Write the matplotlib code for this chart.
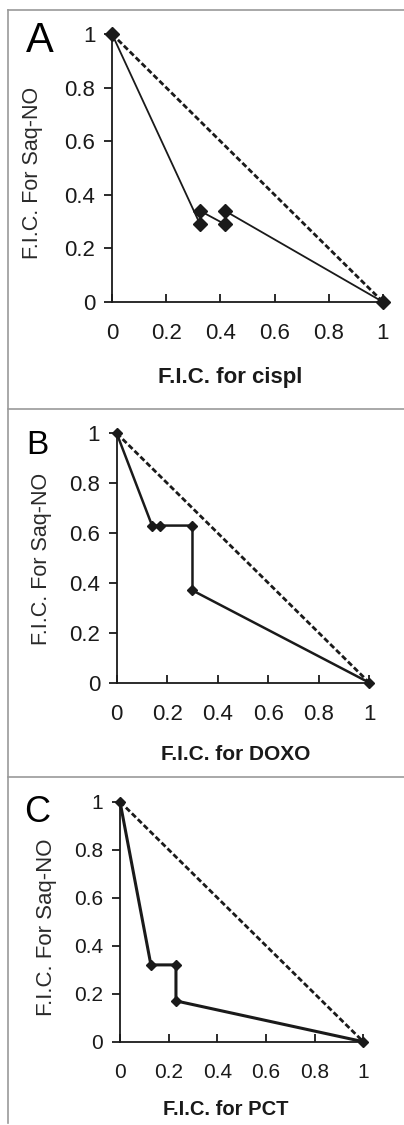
import matplotlib
matplotlib.use("Agg")
import matplotlib.pyplot as plt
from matplotlib.lines import Line2D

plt.rcParams['font.family'] = ['Liberation Sans', 'DejaVu Sans']

# Data
panel_letters = ["A", "B", "C"]
xlabels = ["F.I.C. for cispl", "F.I.C. for DOXO", "F.I.C. for PCT"]
ylabel = "F.I.C. For Saq-NO"
ticks = [0, 0.2, 0.4, 0.6, 0.8, 1]
tick_labels = ["0", "0.2", "0.4", "0.6", "0.8", "1"]

a_x = [0, 0.325, 0.325, 0.417, 0.417, 1]
a_y = [1, 0.29, 0.34, 0.29, 0.34, 0]
b_x = [0, 0.14, 0.17, 0.30, 0.30, 1]
b_y = [1, 0.63, 0.63, 0.63, 0.37, 0]
c_x = [0, 0.127, 0.23, 0.23, 1]
c_y = [1, 0.32, 0.32, 0.17, 0]
additive_x = [0, 1]
additive_y = [1, 0]

W, H = 404, 1125
fig = plt.figure(figsize=(W / 100, H / 100), dpi=100)

def px(x0, y0, x1, y1):
    # pixel box -> figure fraction rect
    return [x0 / W, 1 - y1 / H, (x1 - x0) / W, (y1 - y0) / H]

panels = [
    dict(rect=px(112, 34, 383, 302), xs=a_x, ys=a_y, lw=1.3, ms=7, fs=16, letter_fs=30,
         letter_pos=(40, 41), xl=(0.435, -0.243), yl=(-0.256, 0.481), ylfs=15.5, xlfs=16),
    dict(rect=px(116.7, 433.3, 369.3, 682.7), xs=b_x, ys=b_y, lw=1.8, ms=5, fs=16, letter_fs=24,
         letter_pos=(37, 446), xl=(0.472, -0.25), yl=(-0.257, 0.496), ylfs=15.5, xlfs=15),
    dict(rect=px(120, 801.7, 363.3, 1041.7), xs=c_x, ys=c_y, lw=2.2, ms=5.5, fs=15, letter_fs=26,
         letter_pos=(37, 812), xl=(0.434, -0.243), yl=(-0.26, 0.478), ylfs=16, xlfs=14.5),
]

dark = "#1a1a1a"
for i, p in enumerate(panels):
    ax = fig.add_axes(p["rect"])
    ax.plot(additive_x, additive_y, linestyle=(0, (2.0, 1.0)), color=dark, lw=2.0,
            clip_on=False, zorder=2)
    ax.plot(p["xs"], p["ys"], color=dark, lw=p["lw"], marker="D", markersize=p["ms"],
            markerfacecolor=dark, markeredgecolor=dark, clip_on=False, zorder=3)
    ax.set_xlim(0, 1)
    ax.set_ylim(0, 1)
    ax.set_xticks(ticks)
    ax.set_xticklabels(tick_labels)
    ax.set_yticks(ticks)
    ax.set_yticklabels(tick_labels)
    for s in ["top", "right"]:
        ax.spines[s].set_visible(False)
    for s in ["left", "bottom"]:
        ax.spines[s].set_color(dark)
        ax.spines[s].set_linewidth(1.3)
    ax.tick_params(axis="x", direction="in", length=6, width=1.3, color=dark,
                   labelsize=p["fs"], pad=15, labelcolor="#1a1a1a")
    ax.tick_params(axis="y", direction="out", length=6, width=1.3, color=dark,
                   labelsize=p["fs"], pad=6, labelcolor="#1a1a1a")
    ax.set_xlabel(xlabels[i], fontsize=p["xlfs"], fontweight="bold", color="#1a1a1a")
    ax.xaxis.set_label_coords(*p["xl"])
    ax.set_ylabel(ylabel, fontsize=p["ylfs"], color="#2a2a2a")
    ax.yaxis.set_label_coords(*p["yl"])
    lx, ly = p["letter_pos"]
    fig.text(lx / W, 1 - ly / H, panel_letters[i], fontsize=p["letter_fs"],
             ha="center", va="center", color="black")

# Frame lines
gray = "#9a9a9a"
for y in [10, 409.3, 777.3]:
    fig.add_artist(Line2D([8 / W, 1], [1 - y / H, 1 - y / H], color=gray, lw=1.2,
                          transform=fig.transFigure))
fig.add_artist(Line2D([8 / W, 8 / W], [1 - 10 / H, 1 - 1123 / H], color=gray, lw=1.2,
                      transform=fig.transFigure))

fig.savefig("out.png", dpi=100)
